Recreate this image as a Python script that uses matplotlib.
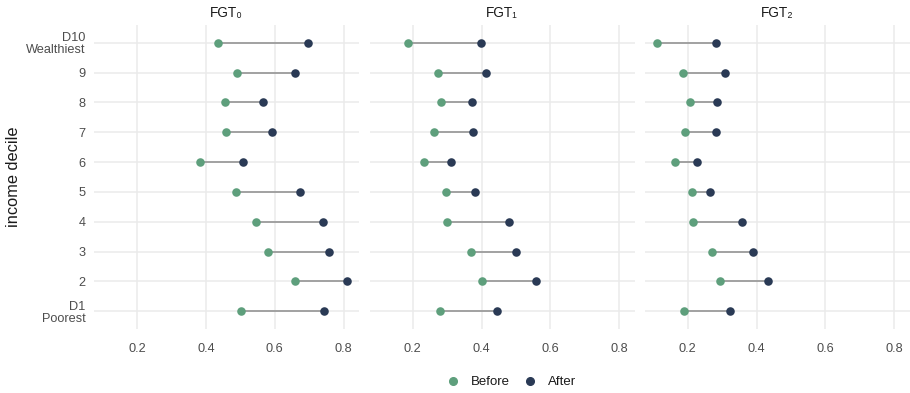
import matplotlib
matplotlib.use("Agg")
import matplotlib.pyplot as plt
from matplotlib.lines import Line2D

plt.rcParams['font.family'] = ['Liberation Sans', 'DejaVu Sans']

deciles = ["D1\nPoorest", "2", "3", "4", "5", "6", "7", "8", "9", "D10\nWealthiest"]
panels = ["FGT\u2080", "FGT\u2081", "FGT\u2082"]

# values ordered D1 .. D10
fgt0_before = [0.501, 0.658, 0.581, 0.545, 0.486, 0.381, 0.457, 0.455, 0.491, 0.436]
fgt0_after  = [0.743, 0.810, 0.757, 0.740, 0.672, 0.508, 0.592, 0.565, 0.659, 0.696]
fgt1_before = [0.280, 0.400, 0.368, 0.300, 0.298, 0.234, 0.262, 0.281, 0.272, 0.187]
fgt1_after  = [0.444, 0.558, 0.499, 0.480, 0.381, 0.311, 0.376, 0.372, 0.414, 0.399]
fgt2_before = [0.188, 0.295, 0.269, 0.216, 0.213, 0.162, 0.193, 0.206, 0.185, 0.109]
fgt2_after  = [0.323, 0.432, 0.391, 0.358, 0.266, 0.227, 0.282, 0.286, 0.307, 0.282]

before = [fgt0_before, fgt1_before, fgt2_before]
after = [fgt0_after, fgt1_after, fgt2_after]
xticks = [0.2, 0.4, 0.6, 0.8]

c_before = "#5E9F7C"
c_after = "#2A3A55"
c_seg = "#8C8C8C"
grid_c = "#EBEBEB"

W, H = 910, 393
fig = plt.figure(figsize=(W / 100, H / 100), dpi=100)

lefts = [94, 369.5, 644.5]
pw = 265
top_px, bot_px = 25, 329

ypos = list(range(len(deciles)))
for i in range(3):
    ax = fig.add_axes([lefts[i] / W, 1 - bot_px / H, pw / W, (bot_px - top_px) / H])
    ax.set_xlim(0.074, 0.845)
    ax.set_ylim(-0.6, len(deciles) - 0.4)
    for s in ax.spines.values():
        s.set_visible(False)
    ax.set_xticks(xticks)
    ax.set_yticks(ypos)
    ax.grid(True, color=grid_c, linewidth=1.1, zorder=0)
    ax.set_axisbelow(True)
    ax.tick_params(length=0, labelsize=9.2, labelcolor="#4D4D4D", pad=10)
    ax.set_xticklabels([f"{t:.1f}" for t in xticks])
    if i == 0:
        labs = ax.set_yticklabels(deciles, linespacing=1.0)
        for t in labs:
            t.set_multialignment('right')
        ax.tick_params(axis='y', pad=6)
        ax.set_ylabel("income decile", fontsize=11.8, color="#1A1A1A", labelpad=4)
    else:
        ax.set_yticklabels([])
    ax.hlines(ypos, before[i], after[i], color=c_seg, linewidth=1.1, zorder=2)
    ax.scatter(before[i], ypos, s=38, color=c_before, zorder=3, linewidths=0)
    ax.scatter(after[i], ypos, s=38, color=c_after, zorder=3, linewidths=0)
    ax.set_title(panels[i], fontsize=9.8, color="#1A1A1A", pad=6)

handles = [
    Line2D([], [], marker='o', linestyle='None', markersize=5.5, color=c_before, label="Before"),
    Line2D([], [], marker='o', linestyle='None', markersize=5.5, color=c_after, label="After"),
]
fig.legend(handles=handles, loc="center", bbox_to_anchor=(511 / W, 1 - 382 / H), ncol=2,
           frameon=False, fontsize=9.5, handletextpad=0.86, columnspacing=1.0, handlelength=1.0,
           labelcolor="#1A1A1A")

fig.savefig("out.png", dpi=100)
